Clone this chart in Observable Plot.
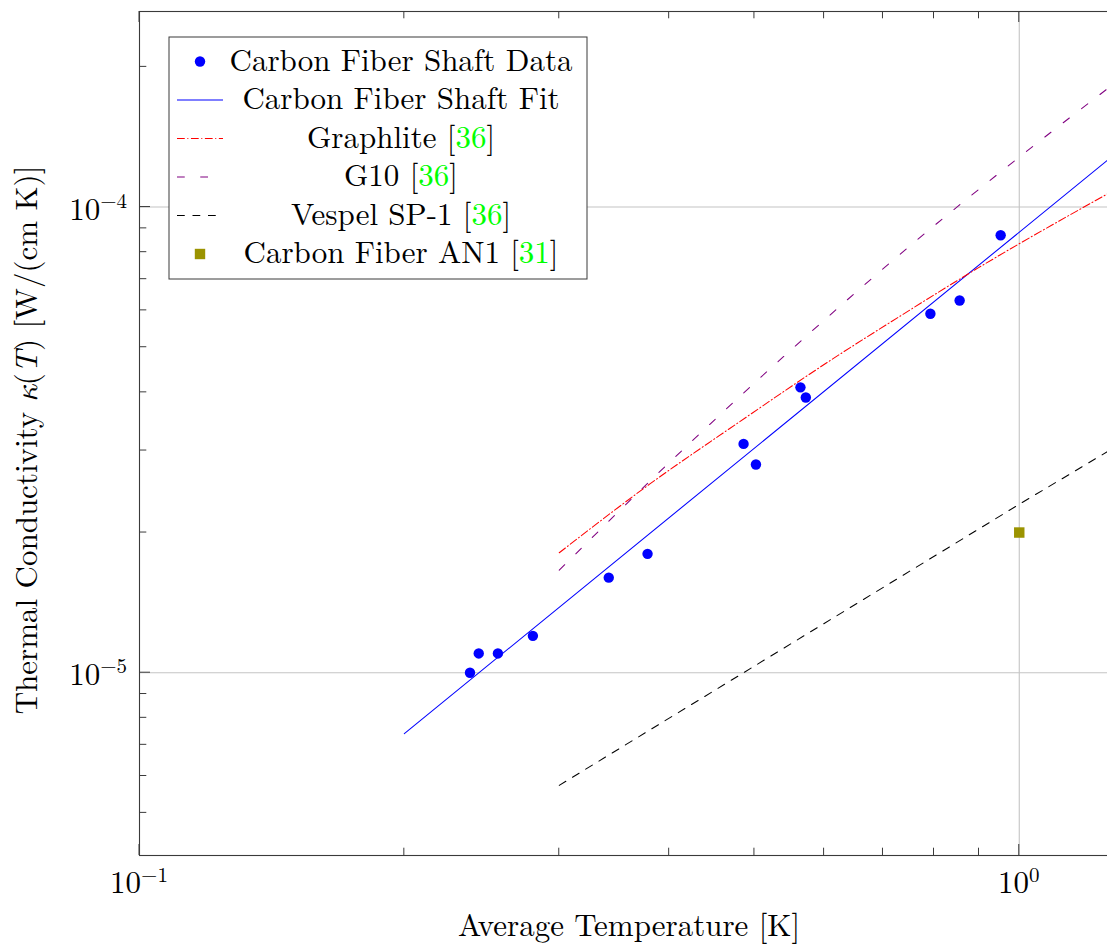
<!DOCTYPE html>
<html>
<head>
<meta charset="utf-8">
<script src="https://cdn.jsdelivr.net/npm/d3@7"></script>
<script src="https://cdn.jsdelivr.net/npm/@observablehq/plot@0.6"></script>
<style>
html, body { margin: 0; padding: 0; background: #fff; overflow: hidden; }
#wrap { position: relative; width: 1107px; height: 944px; overflow: hidden; background: #fff; }
</style>
</head>
<body>
<div id="wrap"></div>
<script>
// ---------- data ----------
const shaftT = [0.2375, 0.243, 0.2555, 0.28, 0.3415, 0.378, 0.486, 0.502, 0.564, 0.572, 0.7925, 0.8555, 0.9525];
const shaftK = [1.0e-5, 1.1e-5, 1.1e-5, 1.2e-5, 1.6e-5, 1.8e-5, 3.1e-5, 2.8e-5, 4.1e-5, 3.9e-5, 5.9e-5, 6.3e-5, 8.7e-5];

const fitT = [0.2, 1.262];
const fitK = [7.4e-6, 1.264e-4];

const graphliteT = [0.3, 0.38, 0.48, 0.6, 0.75, 0.9, 1.0, 1.262];
const graphliteK = [1.81e-5, 2.54e-5, 3.45e-5, 4.59e-5, 6.0e-5, 7.42e-5, 8.34e-5, 1.069e-4];

const g10T = [0.3, 0.378, 0.544, 0.7545, 1.0, 1.262];
const g10K = [1.66e-5, 2.55e-5, 4.84e-5, 8.31e-5, 1.28e-4, 1.80e-4];

const vespelT = [0.3, 1.0, 1.262];
const vespelK = [5.73e-6, 2.3e-5, 2.99e-5];

const an1T = [1.0];
const an1K = [2.0e-5];

const xMajorTicks = [0.1, 1];
const xMinorTicks = [0.2, 0.3, 0.4, 0.5, 0.6, 0.7, 0.8, 0.9];
const yMajorTicks = [1e-5, 1e-4];
const yMinorTicks = [5e-6, 6e-6, 7e-6, 8e-6, 9e-6, 2e-5, 3e-5, 4e-5, 5e-5, 6e-5, 7e-5, 8e-5, 9e-5, 2e-4];
const xTickBase = ["10", "10"];
const xTickExp = ["\u22121", "0"];
const yTickBase = ["10", "10"];
const yTickExp = ["\u22125", "\u22124"];

const legendLabels = ["Carbon Fiber Shaft Data", "Carbon Fiber Shaft Fit", "Graphlite ", "G10 ", "Vespel SP-1 ", "Carbon Fiber AN1 "];
const legendRefs = [null, null, "36", "36", "36", "31"];

// ---------- tables ----------
const zip = (ts, ks) => ts.map((t, i) => ({t, k: ks[i]}));
const shaft = zip(shaftT, shaftK);
const fit = zip(fitT, fitK);
const graphlite = zip(graphliteT, graphliteK);
const g10 = zip(g10T, g10K);
const vespel = zip(vespelT, vespelK);
const an1 = zip(an1T, an1K);

const BLUE = "#0000ff", RED = "#ff0000", PURPLE = "#800080", BLACK = "#000000", OLIVE = "#9b9300", GREEN = "#00ff00";
const DASH_GRAPHLITE = "7.75,2.6,1,2.6";
const DASH_G10 = "7.75,15.5";
const DASH_VESPEL = "7.75,7.75";
const FONT = "'Latin Modern Roman', 'Liberation Serif', serif";
const MATHFONT = "'Latin Modern Math', 'Latin Modern Roman', 'Liberation Serif', serif";
const FS = 31, FS_SUP = 21;

const chart = Plot.plot({
  width: 1119,
  height: 944,
  marginLeft: 139,
  marginRight: 0,
  marginTop: 11,
  marginBottom: 89,
  style: {fontFamily: FONT, background: "#fff", maxWidth: "none", overflow: "visible"},
  x: {type: "log", domain: [0.1, 1.3], axis: null},
  y: {type: "log", domain: [4.05e-6, 2.63e-4], axis: null},
  marks: [
    Plot.ruleX([xMajorTicks[1]], {stroke: "#c4c4c4", strokeWidth: 1.1}),
    Plot.ruleY(yMajorTicks, {stroke: "#c4c4c4", strokeWidth: 1.1}),
    Plot.line(fit, {x: "t", y: "k", stroke: BLUE, strokeWidth: 1.05, clip: true}),
    Plot.line(graphlite, {x: "t", y: "k", stroke: RED, strokeWidth: 1.05, strokeDasharray: DASH_GRAPHLITE, curve: "monotone-x", clip: true}),
    Plot.line(g10, {x: "t", y: "k", stroke: PURPLE, strokeWidth: 1.05, strokeDasharray: DASH_G10, curve: "monotone-x", clip: true}),
    Plot.line(vespel, {x: "t", y: "k", stroke: BLACK, strokeWidth: 1.05, strokeDasharray: DASH_VESPEL, clip: true}),
    Plot.dot(shaft, {x: "t", y: "k", r: 5.2, fill: BLUE, stroke: "none"}),
    Plot.dot(an1, {x: "t", y: "k", r: 5.9, symbol: "square", fill: OLIVE, stroke: "none"}),
    Plot.frame({stroke: "#3a3a3a", strokeWidth: 1.1})
  ]
});
chart.style.maxWidth = "none";
document.getElementById("wrap").appendChild(chart);

// ---------- pgfplots-style inward ticks + labels via the Plot scales ----------
const sx = chart.scale("x"), sy = chart.scale("y");
const X = v => sx.apply(v), Y = v => sy.apply(v);
const TOP = 11, BOTTOM = 855, LEFT = 139;
const MAJ = 11, MIN = 7.3;
const svg = d3.select(chart);
const tg = svg.append("g").attr("stroke", "#3a3a3a").attr("stroke-width", 1);
function xt(list, len) {
  list.forEach(v => {
    tg.append("line").attr("x1", X(v)).attr("x2", X(v)).attr("y1", BOTTOM).attr("y2", BOTTOM - len);
    tg.append("line").attr("x1", X(v)).attr("x2", X(v)).attr("y1", TOP).attr("y2", TOP + len);
  });
}
function yt(list, len) {
  list.forEach(v => {
    tg.append("line").attr("y1", Y(v)).attr("y2", Y(v)).attr("x1", LEFT).attr("x2", LEFT + len);
  });
}
xt(xMajorTicks, MAJ); xt(xMinorTicks, MIN);
yt(yMajorTicks, MAJ); yt(yMinorTicks, MIN);

const lg = svg.append("g").attr("font-family", FONT).attr("fill", "#000");
xMajorTicks.forEach((v, i) => {
  const t = lg.append("text").attr("x", X(v)).attr("y", 893).attr("text-anchor", "middle").attr("font-size", FS);
  t.append("tspan").text(xTickBase[i]);
  t.append("tspan").attr("font-size", FS_SUP).attr("dy", -11.5).text(xTickExp[i]);
});
yMajorTicks.forEach((v, i) => {
  const t = lg.append("text").attr("x", 127).attr("y", Y(v) + 13).attr("text-anchor", "end").attr("font-size", FS);
  t.append("tspan").text(yTickBase[i]);
  t.append("tspan").attr("font-size", FS_SUP).attr("dy", -12).text(yTickExp[i]);
});

// axis labels
lg.append("text").attr("x", 629).attr("y", 936).attr("text-anchor", "middle")
  .attr("font-size", FS).text("Average Temperature [K]");
const yl = lg.append("text").attr("transform", "translate(37,440) rotate(-90)").attr("text-anchor", "middle")
  .attr("font-size", FS);
yl.append("tspan").text("Thermal Conductivity ");
yl.append("tspan").attr("font-family", MATHFONT).attr("font-style", "italic").text("\u03BA");
yl.append("tspan").text("(");
yl.append("tspan").attr("font-style", "italic").text("T");
yl.append("tspan").text(") [W/(cm K)]");

// ---------- legend ----------
const leg = svg.append("g").attr("font-family", FONT);
leg.append("rect").attr("x", 169).attr("y", 37).attr("width", 418).attr("height", 242)
  .attr("fill", "#fff").attr("stroke", "#3a3a3a").attr("stroke-width", 1);
const rowBase = i => 70.5 + 38.5 * i;
const SX0 = 177, SX1 = 223, SXC = 200;
legendLabels.forEach((lab, i) => {
  const cy = rowBase(i) - 9;
  if (i === 0) leg.append("circle").attr("cx", SXC).attr("cy", cy).attr("r", 5.2).attr("fill", BLUE);
  if (i === 1) leg.append("line").attr("x1", SX0).attr("x2", SX1).attr("y1", cy).attr("y2", cy).attr("stroke", BLUE).attr("stroke-width", 1.05);
  if (i === 2) leg.append("line").attr("x1", SX0).attr("x2", SX1).attr("y1", cy).attr("y2", cy).attr("stroke", RED).attr("stroke-width", 1.05).attr("stroke-dasharray", DASH_GRAPHLITE);
  if (i === 3) leg.append("line").attr("x1", SX0).attr("x2", SX1).attr("y1", cy).attr("y2", cy).attr("stroke", PURPLE).attr("stroke-width", 1.05).attr("stroke-dasharray", DASH_G10);
  if (i === 4) leg.append("line").attr("x1", SX0).attr("x2", SX1).attr("y1", cy).attr("y2", cy).attr("stroke", BLACK).attr("stroke-width", 1.05).attr("stroke-dasharray", DASH_VESPEL);
  if (i === 5) leg.append("rect").attr("x", SXC - 5.2).attr("y", cy - 5.2).attr("width", 10.4).attr("height", 10.4).attr("fill", OLIVE);
  const t = leg.append("text").attr("x", 401).attr("y", rowBase(i)).attr("text-anchor", "middle")
    .attr("font-size", FS).attr("fill", "#000");
  t.append("tspan").text(lab);
  if (legendRefs[i]) {
    t.append("tspan").text("[");
    t.append("tspan").attr("fill", GREEN).text(legendRefs[i]);
    t.append("tspan").text("]");
  }
});
</script>
</body>
</html>
